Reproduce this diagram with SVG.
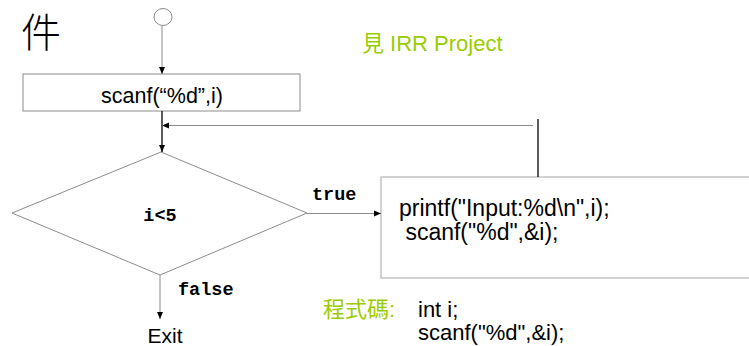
<svg xmlns="http://www.w3.org/2000/svg" width="749" height="346" viewBox="0 0 749 346">
<style>
.sans{font-family:"Liberation Sans",Arial,"Noto Sans CJK TC",sans-serif;fill:#000}
.cjk{font-family:"Liberation Sans","Noto Sans CJK TC",sans-serif}
.mono{font-family:"Liberation Mono","Courier New",monospace;font-weight:bold;fill:#000}
.green{fill:#99cc00}
.shape{fill:#fff;stroke:#8c8c8c;stroke-width:1}
.light{fill:#fff;stroke:#c4c4c4;stroke-width:1.5}
.gl{stroke:#8c8c8c;stroke-width:1;fill:none}
.bl{stroke:#000;stroke-width:1.3;fill:none}
</style>
<defs>
<marker id="ah" markerWidth="8" markerHeight="8" refX="7" refY="4" orient="auto" markerUnits="userSpaceOnUse">
<path d="M0,1 L7,4 L0,7 Z" fill="#000"/>
</marker>
</defs>
<rect width="749" height="346" fill="#fff"/>
<text class="cjk" x="21" y="47" font-size="40" font-weight="300" fill="#000">件</text>
<text class="cjk green" x="362" y="51" font-size="22">見 IRR Project</text>
<g id="start"><ellipse cx="163" cy="17" rx="9" ry="8.5" class="shape"/></g>
<g id="scanf1"><rect x="23" y="74" width="277" height="37" class="shape"/><text class="sans" x="162" y="103" font-size="21.5" text-anchor="middle">scanf(“%d”,i)</text></g>
<g id="cond"><polygon points="161,152 307,213 160,275 12,213" class="shape"/><text class="mono" x="160" y="221" font-size="18.5" text-anchor="middle">i&lt;5</text></g>
<g id="body"><rect x="381" y="177" width="380" height="101" class="light"/><text class="sans" x="399" y="216" font-size="23">printf("Input:%d\n",i);</text><text class="sans" x="399" y="240" font-size="23" xml:space="preserve"> scanf("%d",&amp;i);</text></g>
<g id="exit"><text class="sans" x="165" y="343" font-size="21" text-anchor="middle">Exit</text></g>
<g id="code"><text class="cjk green" x="323" y="317" font-size="22">程式碼:</text><text class="sans" x="418" y="317" font-size="22">int i;</text><text class="sans" x="418" y="340" font-size="22">scanf("%d",&amp;i);</text></g>
<g id="connectors">
<line x1="162" y1="25.5" x2="162" y2="74" class="gl" marker-end="url(#ah)"/>
<line x1="162" y1="111" x2="162" y2="152" class="bl" marker-end="url(#ah)"/>
<line x1="538" y1="119" x2="538" y2="177" class="bl"/>
<line x1="533" y1="125.5" x2="162" y2="125.5" class="gl" marker-end="url(#ah)"/>
<line x1="307" y1="213.5" x2="381" y2="213.5" class="gl" marker-end="url(#ah)"/>
<line x1="160" y1="275" x2="160" y2="319" class="gl" marker-end="url(#ah)"/>
<text class="mono" x="312" y="200" font-size="18.5">true</text>
<text class="mono" x="178" y="295" font-size="18.5">false</text>
</g>
</svg>
